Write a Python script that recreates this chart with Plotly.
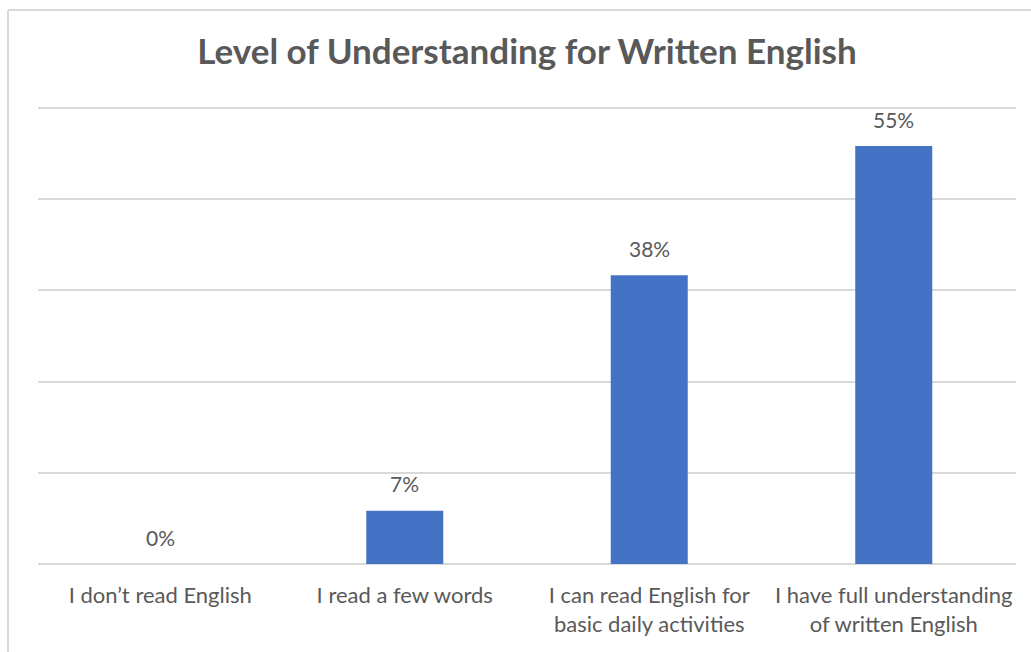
import plotly.graph_objects as go

categories = ["I don’t read English", "I read a few words",
              "I can read English for<br>basic daily activities",
              "I have full understanding<br>of written English"]
values = [0.0, 0.07, 0.38, 0.55]
labels = ["0%", "7%", "38%", "55%"]

W, H = 1031, 652
ml, mr, mt, mb = 38, 15, 104, 88
FONT = "Lato, Open Sans, sans-serif"

fig = go.Figure(go.Bar(
    x=categories, y=values,
    marker=dict(color="#4472C4", line=dict(width=0)),
    cliponaxis=False, hoverinfo="x+y",
))

annotations = [
    dict(x=c, y=v, text=t, xref="x", yref="y", showarrow=False,
         yanchor="middle", yshift=27,
         font=dict(family=FONT, size=21, color="#595959"))
    for c, v, t in zip(categories, values, labels)
]

pw = W - ml - mr
ph = H - mt - mb
fig.update_layout(
    width=W, height=H,
    margin=dict(l=ml, r=mr, t=mt, b=mb),
    paper_bgcolor="white", plot_bgcolor="white",
    bargap=0.685,
    showlegend=False,
    annotations=annotations,
    title=dict(text="<b>Level of Understanding for Written English</b>",
               x=(527 - ml) / pw, xref="paper", xanchor="center",
               y=1 - 52 / H, yref="container", yanchor="middle",
               font=dict(family=FONT, size=35, color="#595959")),
    xaxis=dict(showgrid=False, showline=False, ticks="",
               tickfont=dict(family=FONT, size=22, color="#595959"),
               ticklabelstandoff=16),
    yaxis=dict(range=[0, 0.6 * ph / 456], tickvals=[0, 0.12, 0.24, 0.36, 0.48, 0.6],
               showgrid=True, gridcolor="#d9d9d9", gridwidth=1.5,
               zeroline=True, zerolinecolor="#d9d9d9", zerolinewidth=1.5,
               showticklabels=False, showline=False),
    shapes=[
        dict(type="line", xref="paper", yref="paper",
             x0=(8 - ml) / pw, x1=1.2, y0=1 + (mt - 10) / ph, y1=1 + (mt - 10) / ph,
             line=dict(color="#d9d9d9", width=2)),
        dict(type="line", xref="paper", yref="paper",
             x0=(8 - ml) / pw, x1=(8 - ml) / pw, y0=1 + (mt - 10) / ph, y1=-1,
             line=dict(color="#d9d9d9", width=2)),
    ],
)

fig.write_html("out.html")
